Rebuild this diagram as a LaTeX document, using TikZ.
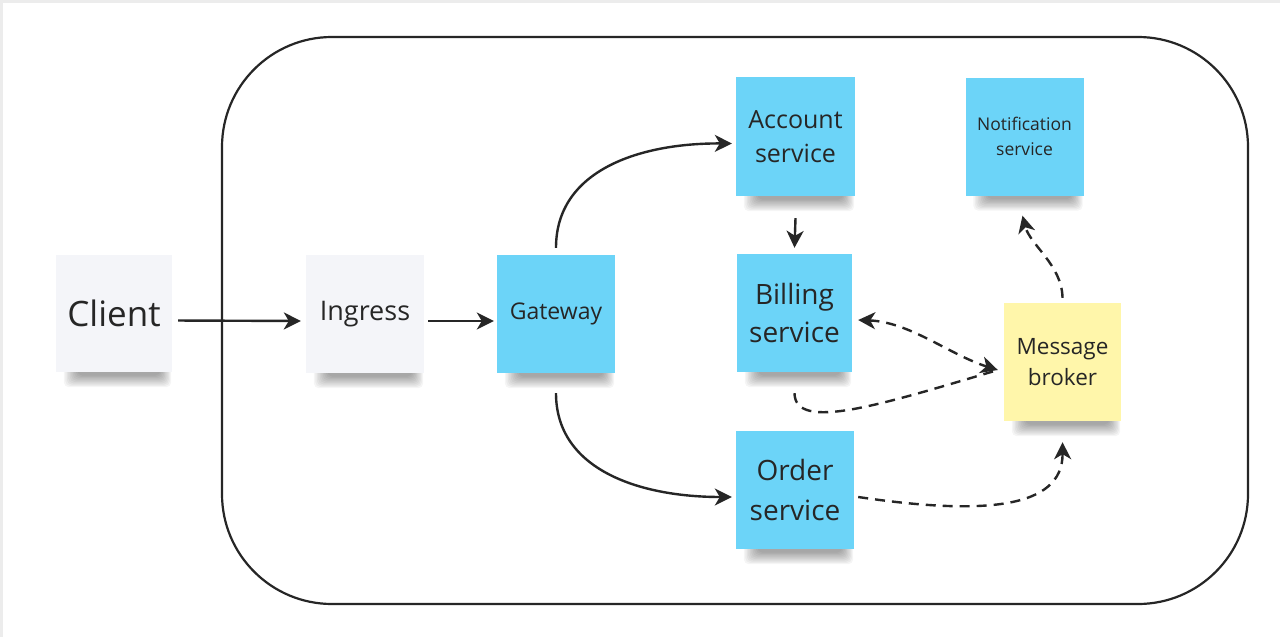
\documentclass[tikz,border=0pt]{standalone}
\usepackage{fontspec}
\setmainfont{Open Sans}
\usetikzlibrary{arrows.meta,backgrounds}
\definecolor{noteblue}{RGB}{108,212,248}
\definecolor{noteyellow}{RGB}{255,246,170}
\definecolor{notegray}{RGB}{244,245,249}
\definecolor{ink}{RGB}{38,38,38}
\definecolor{edgegray}{RGB}{236,236,236}
\newcommand\noteshadow[1]{%
  \foreach \k in {0,...,9}{%
    \fill[black, opacity=0.04, rounded corners=5pt]
      ([xshift=8pt+1.5*\k pt, yshift=8pt]#1.south west) rectangle
      ([xshift=-1pt-1.2*\k pt, yshift=-15pt+1.3*\k pt]#1.south east);
  }}
\begin{document}
\begin{tikzpicture}[x=1pt,y=-1pt,
  note/.style={minimum width=118pt, minimum height=118pt, inner sep=0pt, align=center, text=ink},
  bluenote/.style={note, fill=noteblue},
  graynote/.style={note, fill=notegray},
  yellownote/.style={note, fill=noteyellow},
  conn/.style={draw=ink, line width=2.4pt, -{Stealth[length=17pt,width=17pt,inset=5pt]}},
  dconn/.style={conn, dash pattern=on 10pt off 7pt},
  frame/.style={draw=ink, line width=2.2pt, rounded corners=110pt}
]
\useasboundingbox (0,0) rectangle (1280,637);

\node[graynote, minimum width=116pt, minimum height=117pt, font=\fontsize{35}{42}\selectfont] (client) at (114,313.5) {Client};
\node[graynote, font=\fontsize{27}{33}\selectfont] (ingress) at (365,314) {\raisebox{-2pt}{Ingress}};
\node[bluenote, font=\fontsize{23}{28}\selectfont] (gateway) at (556,314) {\raisebox{-2pt}{Gateway}};
\node[bluenote, minimum width=119pt, minimum height=119pt, font=\fontsize{25}{34}\selectfont] (account) at (795.5,136.5) {Account\\service};
\node[bluenote, font=\fontsize{17.5}{25}\selectfont] (notif) at (1024.5,136.5) {Notification\\service};
\node[bluenote, minimum width=115pt, font=\fontsize{28}{38}\selectfont] (billing) at (794.5,313) {Billing\\service};
\node[bluenote, font=\fontsize{28}{40}\selectfont] (order) at (795,490) {Order\\service};
\node[yellownote, minimum width=117pt, font=\fontsize{22.5}{31}\selectfont] (broker) at (1062.5,362) {Message\\broker};

\begin{scope}[on background layer]
\fill[white] (0,0) rectangle (1280,637);
\fill[edgegray] (0,0) rectangle (1280,3);
\fill[edgegray] (0,0) rectangle (3,637);
\draw[frame] (222,37) rectangle (1248,604);
\noteshadow{client}
\noteshadow{ingress}
\noteshadow{gateway}
\noteshadow{account}
\noteshadow{notif}
\noteshadow{billing}
\noteshadow{order}
\noteshadow{broker}
\end{scope}

\draw[conn, shorten <=6pt, shorten >=5pt] ([yshift=-7pt]client.east) -- ([yshift=-7pt]ingress.west);
\draw[conn, shorten <=4pt, shorten >=3pt] ([yshift=-7pt]ingress.east) -- ([yshift=-7pt]gateway.west);
\draw[conn] ([yshift=7pt]gateway.north) .. controls (556,170) and (640,143) .. ([xshift=-4pt,yshift=-7pt]account.west);
\draw[conn] ([yshift=-20pt]gateway.south) .. controls (556,470) and (640,497) .. ([xshift=-4pt,yshift=-7pt]order.west);
\draw[conn] ([yshift=-22pt]account.south) -- ([yshift=6pt]billing.north);

\coordinate (brokerin) at ([xshift=-6pt,yshift=-8pt]broker.west);
\draw[dconn, {Stealth[length=17pt,width=17pt,inset=5pt]}-{Stealth[length=17pt,width=17pt,inset=5pt]}]
  ([xshift=6pt,yshift=-7pt]billing.east) .. controls (910,322) and (950,355) .. (brokerin);
\draw[dconn, -] ([yshift=-21pt]billing.south) .. controls (795,432) and (880,405) .. (brokerin);
\draw[dconn] ([xshift=4pt,yshift=-7pt]order.east) .. controls (980,515) and (1063,510) .. ([yshift=-21pt]broker.south);
\draw[dconn] ([yshift=5pt]broker.north) .. controls (1062,265) and (1030,245) .. ([xshift=-2pt,yshift=-20pt]notif.south);
\end{tikzpicture}
\end{document}
